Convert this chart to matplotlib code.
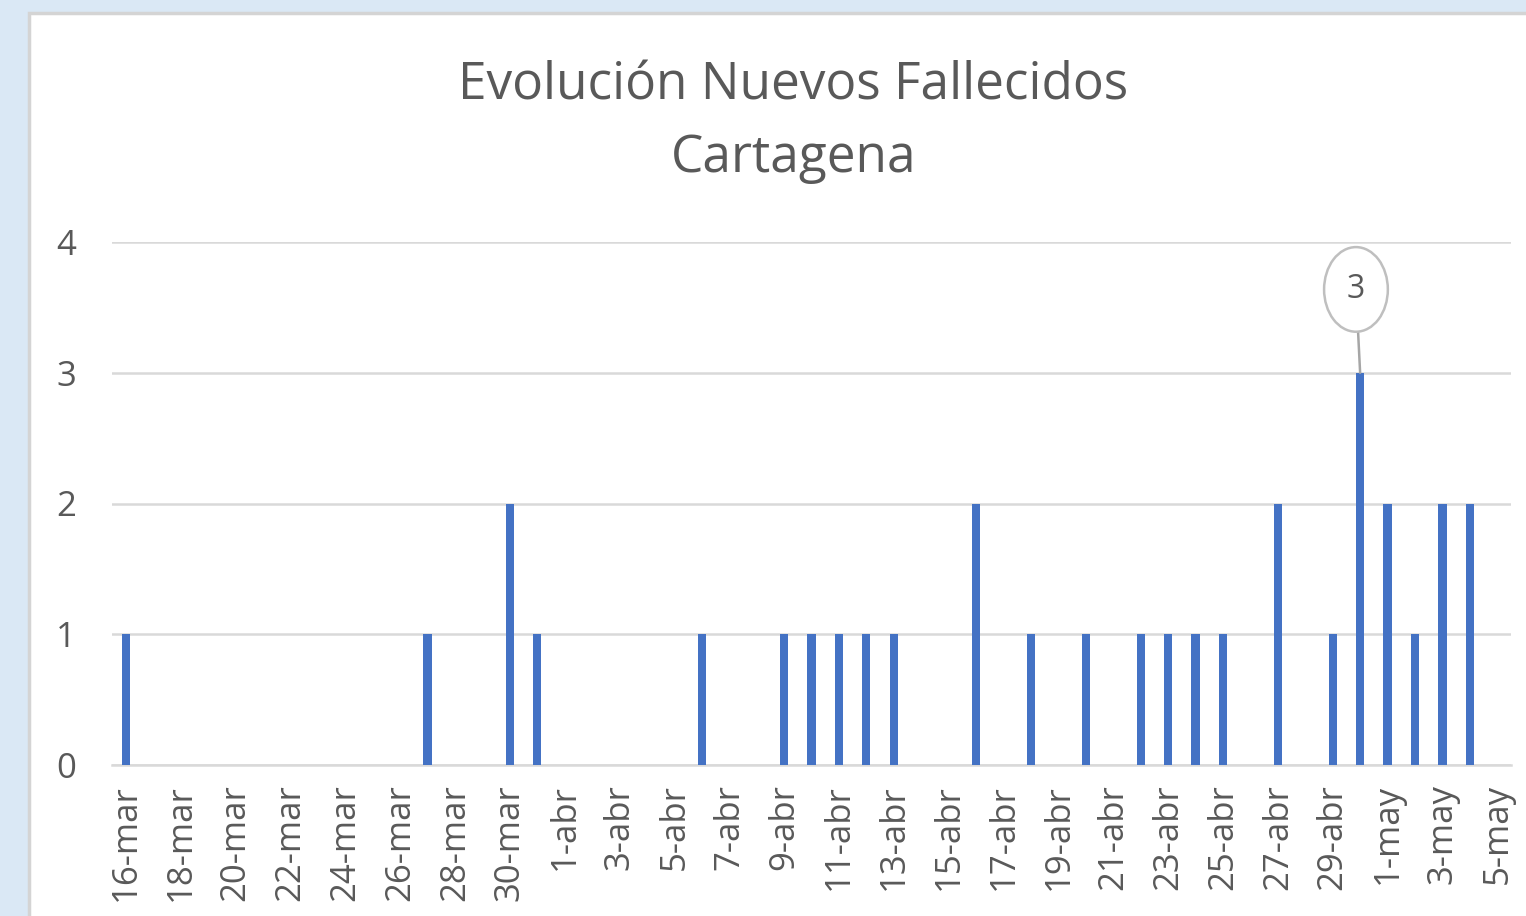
import matplotlib.pyplot as plt
from matplotlib.patches import Rectangle
import datetime

# daily new deaths, 16-mar .. 5-may (days not listed are 0)
start = datetime.date(2020, 3, 16)
end = datetime.date(2020, 5, 5)
deaths = {
    "16-03": 1, "27-03": 1, "30-03": 2, "31-03": 1,
    "06-04": 1, "09-04": 1, "10-04": 1, "11-04": 1, "12-04": 1, "13-04": 1,
    "16-04": 2, "18-04": 1, "20-04": 1, "22-04": 1, "23-04": 1, "24-04": 1,
    "25-04": 1, "27-04": 2, "29-04": 1, "30-04": 3,
    "01-05": 2, "02-05": 1, "03-05": 2, "04-05": 2,
}
months = {3: "mar", 4: "abr", 5: "may"}
title_lines = ["Evolución Nuevos Fallecidos", "Cartagena"]

days = [start + datetime.timedelta(days=i) for i in range((end - start).days + 1)]
labels = ["%d-%s" % (d.day, months[d.month]) for d in days]
values = [deaths.get(d.strftime("%d-%m"), 0) for d in days]
x = list(range(len(days)))

blue = "#4472c4"
grey_txt = "#595959"
grid_c = "#d9d9d9"
font = "Open Sans"

fig = plt.figure(figsize=(15.26, 9.16), dpi=100)
fig.patch.set_facecolor("#dae8f5")
fig.patches.append(Rectangle((29 / 1526, -0.05), 1.1, 1.05 - 13 / 916,
                             transform=fig.transFigure, facecolor="white",
                             edgecolor="#d4d4d4", linewidth=2.5, zorder=-5))

ax = fig.add_axes([112 / 1526, 151 / 916, 1399 / 1526, 523 / 916])
ax.set_facecolor("none")
ax.bar(x, values, width=0.3, color=blue, zorder=3)

ax.set_xlim(-0.5, len(days) - 0.5)
ax.set_ylim(0, 4)
ax.set_yticks([0, 1, 2, 3, 4])
ax.set_xticks(x[::2])
ax.set_xticklabels(labels[::2], rotation=90)
ax.grid(axis="y", color=grid_c, linewidth=1.8, zorder=0)
for s in ["top", "right", "left"]:
    ax.spines[s].set_visible(False)
ax.spines["bottom"].set_color(grid_c)
ax.spines["bottom"].set_linewidth(1.8)
ax.tick_params(length=0, colors=grey_txt, labelsize=25)
ax.tick_params(axis="y", pad=26)
ax.tick_params(axis="x", pad=14)
for t in ax.get_xticklabels() + ax.get_yticklabels():
    t.set_fontfamily(font)

# callout on the max bar
imax = values.index(max(values))
ax.annotate(str(values[imax]), xy=(x[imax], values[imax]), xytext=(-3, 60),
            textcoords="offset points", ha="center", va="center",
            fontsize=23, color=grey_txt, fontfamily=font,
            bbox=dict(boxstyle="ellipse,pad=0.42", fc="white", ec="#bfbfbf", lw=1.8),
            arrowprops=dict(arrowstyle="-", color="#a6a6a6", lw=1.8,
                            shrinkA=0, shrinkB=0))

fig.text(0.52, 1 - 86 / 916, title_lines[0], ha="center", va="center",
         fontsize=37, color=grey_txt, fontfamily=font)
fig.text(0.52, 1 - 159 / 916, title_lines[1], ha="center", va="center",
         fontsize=37, color=grey_txt, fontfamily=font)

fig.savefig("out.png", dpi=100, facecolor=fig.get_facecolor())
